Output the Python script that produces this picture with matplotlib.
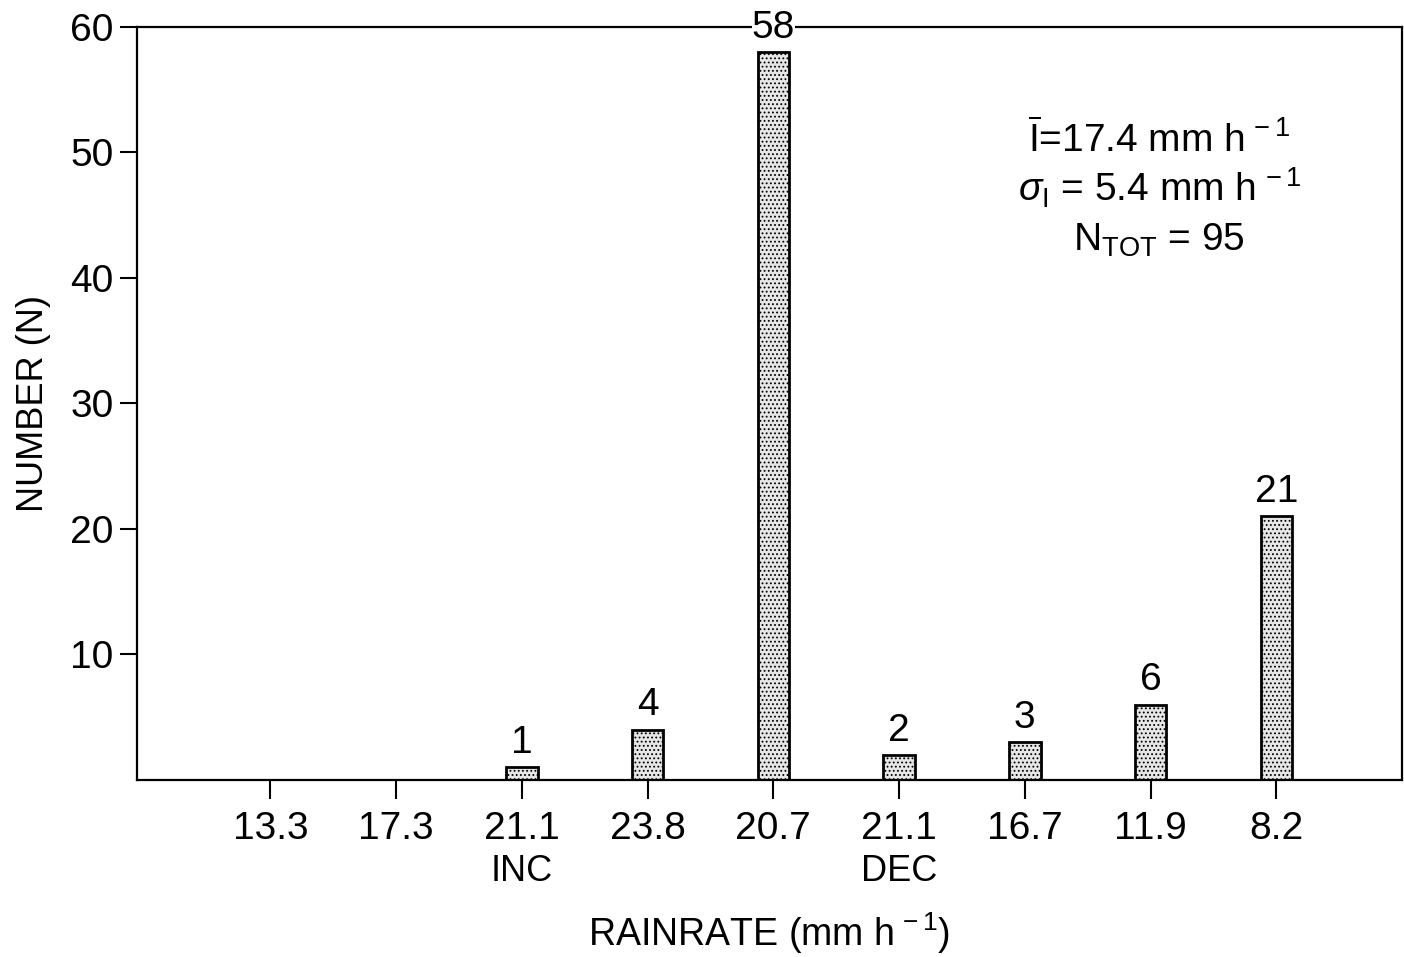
import matplotlib
matplotlib.use('Agg')
import matplotlib.pyplot as plt
import matplotlib as mpl

# rainrate histogram, INC / DEC phases
rates = ['13.3', '17.3', '21.1', '23.8', '20.7', '21.1', '16.7', '11.9', '8.2']
counts = [0, 0, 1, 4, 58, 2, 3, 6, 21]
phase_labels = {2: 'INC', 5: 'DEC'}
yticks = [10, 20, 30, 40, 50, 60]

plt.rcParams['font.family'] = ['Liberation Sans', 'DejaVu Sans']
plt.rcParams['mathtext.fontset'] = 'custom'
plt.rcParams['mathtext.rm'] = 'Liberation Sans'
plt.rcParams['mathtext.it'] = 'Liberation Sans:italic'
plt.rcParams['mathtext.bf'] = 'Liberation Sans:bold'
plt.rcParams['hatch.color'] = '#707070'
plt.rcParams['hatch.linewidth'] = 0.8

fig = plt.figure(figsize=(14.04, 9.57), dpi=100)
ax = fig.add_axes([0.0976, 0.185, 0.901, 0.787])

xs = list(range(len(rates)))
bx = [x for x, c in zip(xs, counts) if c > 0]
bh = [c for c in counts if c > 0]
bars = ax.bar(bx, bh, width=0.25, facecolor='#e6e6e6', edgecolor='black',
              linewidth=2.0, hatch='....', zorder=2)

for x, c in zip(bx, bh):
    ax.text(x, c + 0.5, str(c), ha='center', va='bottom', fontsize=28,
            zorder=5, bbox=dict(facecolor='white', edgecolor='none', pad=0))

ax.set_xlim(-1.06, 9.0)
ax.set_ylim(0, 60)
ax.set_xticks(xs)
ax.set_xticklabels(rates, fontsize=28)
ax.set_yticks(yticks)
ax.set_yticklabels([str(v) for v in yticks], fontsize=28)
ax.tick_params(axis='x', direction='out', length=14, width=1.5, pad=8)
ax.tick_params(axis='y', direction='out', length=12, width=1.5, pad=5)
for s in ax.spines.values():
    s.set_linewidth(1.6)

for i, lab in phase_labels.items():
    ax.text(i, -5.9, lab, ha='center', va='top', fontsize=26,
            transform=ax.transData, clip_on=False)

ax.set_xlabel(r'RAINRATE (mm h$^{\,-1}$)', fontsize=27, labelpad=46)
ax.set_ylabel('NUMBER (N)', fontsize=26, labelpad=14)

ax.text(7.07, 51, r'$\overline{\mathrm{I}}$=17.4 mm h$^{\,-1}$', ha='center',
        va='center', fontsize=28)
ax.text(7.07, 47.2, r'$\sigma_{\mathrm{I}}$ = 5.4 mm h$^{\,-1}$', ha='center',
        va='center', fontsize=28)
ax.text(7.07, 43, r'N$_{\mathrm{TOT}}$ = 95', ha='center', va='center',
        fontsize=28)

fig.savefig('out.png', dpi=100)
